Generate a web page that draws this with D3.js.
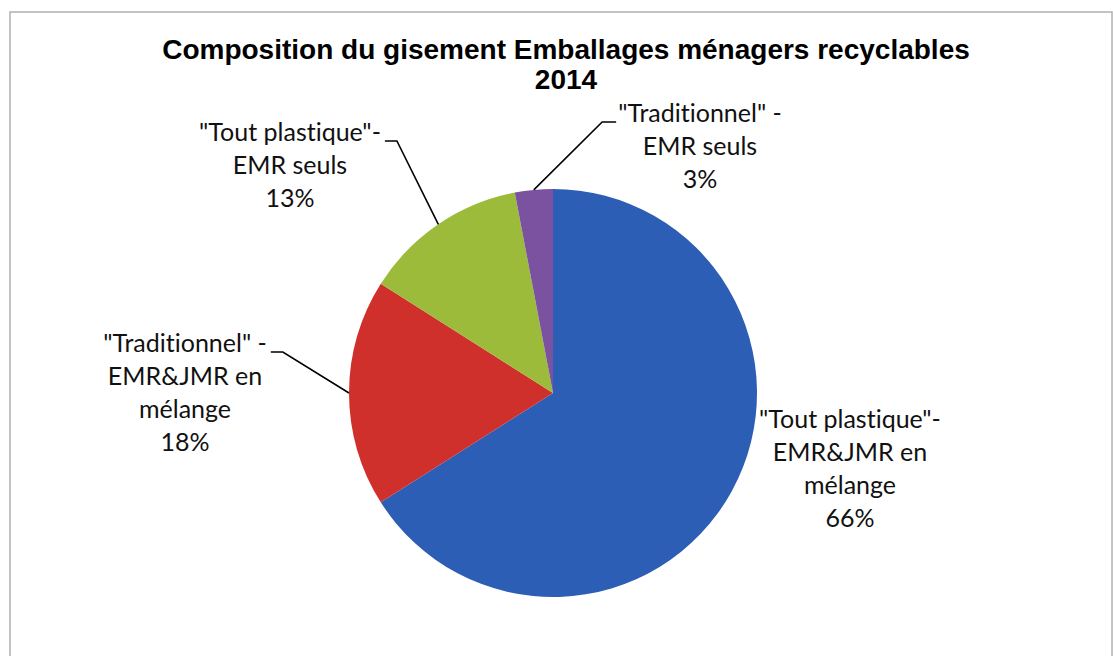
<!DOCTYPE html>
<html>
<head>
<meta charset="utf-8">
<script src="https://cdn.jsdelivr.net/npm/d3@7"></script>
<style>
  html, body { margin: 0; padding: 0; background: #fff; }
  svg { display: block; }
  text { font-variant-ligatures: none; }
</style>
</head>
<body>
<div id="chart"></div>
<script>
// Slices in drawing order, clockwise from 12 o'clock
const categories = [
    ["\"Tout plastique\"-", "EMR&JMR en", "mélange"],
    ["\"Traditionnel\" -", "EMR&JMR en", "mélange"],
    ["\"Tout plastique\"-", "EMR seuls"],
    ["\"Traditionnel\" -", "EMR seuls"]
];
const values = [66, 18, 13, 3];
const colors = ["#2c5eb6", "#d0302c", "#9dbb3b", "#7a52a0"];
const titleLines = ["Composition du gisement Emballages ménagers recyclables", "2014"];

// label block placement relative to pie centre (centre x, first-line centre y), and whether a leader is drawn
const labelLayout = [
    { dx: 297, dy: 26, leader: false },
    { dx: -368, dy: -50, leader: true },
    { dx: -263, dy: -261, leader: true },
    { dx: 147, dy: -280, leader: true }
];

const width = 1113, height = 656;
const cx = 553, cy = 393, radius = 204;
const lineH = 33;

const svg = d3.select("#chart").append("svg")
    .attr("width", width)
    .attr("height", height);

// chart frame
svg.append("rect")
    .attr("x", 10).attr("y", 12)
    .attr("width", 1102).attr("height", 660)
    .attr("fill", "#fff")
    .attr("stroke", "#b0b0b0")
    .attr("stroke-width", 1.5);

// title
const title = svg.append("text")
    .attr("text-anchor", "middle")
    .attr("fill", "#000")
    .style("font-family", "'Liberation Sans', Arial, sans-serif")
    .style("font-weight", "700")
    .style("font-size", "28px");
titleLines.forEach((t, i) => {
    title.append("tspan")
        .attr("x", 566)
        .attr("y", 59 + i * 30)
        .text(t);
});

const data = categories.map((c, i) => ({ lines: c, val: values[i], color: colors[i], layout: labelLayout[i] }));
const total = d3.sum(data, d => d.val);

const pie = d3.pie().value(d => d.val).sort(null);
const arc = d3.arc().innerRadius(0).outerRadius(radius);
const arcs = pie(data);

const g = svg.append("g").attr("transform", `translate(${cx},${cy})`);

g.selectAll(".slice")
    .data(arcs)
    .enter().append("path")
    .attr("class", "slice")
    .attr("fill", d => d.data.color)
    .attr("d", arc);

const fontFamily = "Lato, 'Open Sans', sans-serif";
const fontSize = 25;

arcs.forEach(d => {
    const L = d.data.layout;
    const lines = d.data.lines.concat([Math.round(d.data.val / total * 100) + "%"]);
    const txt = g.append("text")
        .attr("text-anchor", "middle")
        .attr("fill", "#111")
        .style("font-family", fontFamily)
        .style("font-size", fontSize + "px");
    lines.forEach((t, i) => {
        txt.append("tspan")
            .attr("x", L.dx)
            .attr("y", L.dy + i * lineH)
            .attr("dy", "0.35em")
            .text(t);
    });

    if (L.leader) {
        // leader: from the rim at the slice's mid angle to the first label line
        const mid = (d.startAngle + d.endAngle) / 2;
        const px = Math.sin(mid) * radius, py = -Math.cos(mid) * radius;
        const firstW = txt.select("tspan").node().getComputedTextLength();
        const yLine = L.dy + 9;
        const goRight = px < L.dx; // label to the right of the point
        const edge = goRight ? L.dx - firstW / 2 - 2 : L.dx + firstW / 2 + 4;
        const elbow = goRight ? edge - 14 : edge + 12;
        g.append("path")
            .attr("d", d3.line()([[px, py], [elbow, yLine], [edge, yLine]]))
            .attr("fill", "none")
            .attr("stroke", "#000")
            .attr("stroke-width", 1.6);
    }
});
</script>
</body>
</html>
